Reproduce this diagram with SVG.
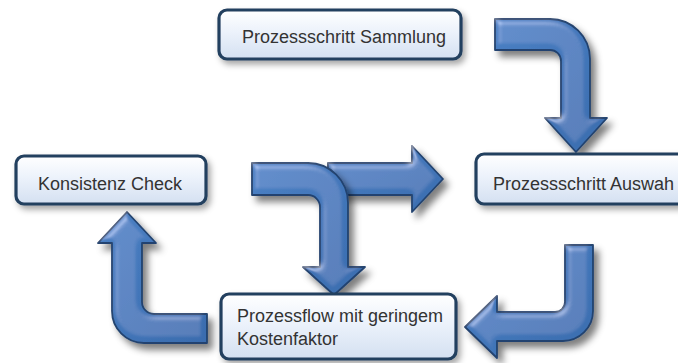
<svg xmlns="http://www.w3.org/2000/svg" width="678" height="363" viewBox="0 0 678 363">
  <defs>
    <!-- bevelled blue arrow body with soft drop shadow -->
    <filter id="arrowFx" x="-20%" y="-20%" width="150%" height="150%">
      <feGaussianBlur in="SourceAlpha" stdDeviation="3.5" result="blur"/>
      <feSpecularLighting in="blur" surfaceScale="5" specularConstant="0.6" specularExponent="16" lighting-color="#ffffff" result="spec">
        <feDistantLight azimuth="235" elevation="40"/>
      </feSpecularLighting>
      <feComposite in="spec" in2="SourceAlpha" operator="in" result="specIn"/>
      <feComposite in="SourceGraphic" in2="specIn" operator="arithmetic" k1="0" k2="1" k3="0.45" k4="0" result="lit"/>
      <feOffset in="blur" dx="5" dy="6" result="offBlur"/>
      <feFlood flood-color="#000000" flood-opacity="0.5"/>
      <feComposite in2="offBlur" operator="in" result="shadow"/>
      <feMerge>
        <feMergeNode in="shadow"/>
        <feMergeNode in="lit"/>
      </feMerge>
    </filter>
    <filter id="boxShadow" x="-10%" y="-20%" width="125%" height="160%">
      <feGaussianBlur in="SourceAlpha" stdDeviation="3" result="b"/>
      <feOffset in="b" dx="3" dy="4" result="o"/>
      <feFlood flood-color="#000000" flood-opacity="0.35"/>
      <feComposite in2="o" operator="in" result="s"/>
      <feMerge>
        <feMergeNode in="s"/>
        <feMergeNode in="SourceGraphic"/>
      </feMerge>
    </filter>
    <linearGradient id="boxFill" x1="0" y1="0" x2="0" y2="1">
      <stop offset="0" stop-color="#ffffff"/>
      <stop offset="0.45" stop-color="#ecf2fb"/>
      <stop offset="1" stop-color="#d4e0f1"/>
    </linearGradient>
    <linearGradient id="arrowFill" x1="0" y1="0" x2="1" y2="1">
      <stop offset="0" stop-color="#4a80c4"/>
      <stop offset="1" stop-color="#3a6cae"/>
    </linearGradient>
  </defs>
  <style>
    .arrow { fill: url(#arrowFill); stroke: #22436f; stroke-width: 1.8; stroke-linejoin: round; filter: url(#arrowFx); }
    .box { fill: url(#boxFill); stroke: #243f5f; stroke-width: 3.2; filter: url(#boxShadow); }
    .label { font-family: "Liberation Sans", Arial, sans-serif; font-size: 18px; fill: #333333; }
  </style>

  <rect width="678" height="363" fill="#ffffff"/>

  <g id="connectors">
    <!-- Sammlung -> Auswahl -->
    <path class="arrow" d="M495,19 L550,19 A40,40 0 0 1 590,59 L590,118 L607,118 L576,152 L545,118 L561,118 L561,61 A11,11 0 0 0 550,50 L495,50 Z"/>
    <!-- straight branch to Auswahl -->
    <path class="arrow" d="M328,163 L412,163 L412,146 L443,179 L412,212 L412,195 L328,195 Z"/>
    <!-- bent branch down to Prozessflow -->
    <path class="arrow" d="M252,163 L308,163 A40,40 0 0 1 348,203 L348,267 L365,267 L334,295 L303,267 L320,267 L320,207 A12,12 0 0 0 308,195 L252,195 Z"/>
    <!-- Prozessflow -> Konsistenz Check -->
    <path class="arrow" d="M207,314 L154,314 A12,12 0 0 1 142,302 L142,243 L156,243 L127,212 L98,243 L112,243 L112,311 A32,32 0 0 0 144,343 L207,343 Z"/>
    <!-- Auswahl -> Prozessflow -->
    <path class="arrow" d="M565,245 L593,245 L593,311 A30,30 0 0 1 563,341 L497,341 L497,358 L465,327 L497,296 L497,312 L555,312 A10,10 0 0 0 565,302 Z"/>
  </g>

  <g id="node-sammlung">
    <rect class="box" x="219" y="10" width="242" height="49" rx="8"/>
    <text class="label" x="242" y="43">Prozessschritt Sammlung</text>
  </g>
  <g id="node-konsistenz">
    <rect class="box" x="16" y="156" width="190" height="48" rx="8"/>
    <text class="label" x="38" y="190">Konsistenz Check</text>
  </g>
  <g id="node-auswahl">
    <rect class="box" x="476" y="154" width="220" height="50" rx="8"/>
    <text class="label" x="493" y="190">Prozessschritt Auswah</text>
  </g>
  <g id="node-prozessflow">
    <rect class="box" x="221" y="294" width="235" height="65" rx="8"/>
    <text class="label" x="237" y="322">Prozessflow mit geringem</text>
    <text class="label" x="237" y="345">Kostenfaktor</text>
  </g>
</svg>
